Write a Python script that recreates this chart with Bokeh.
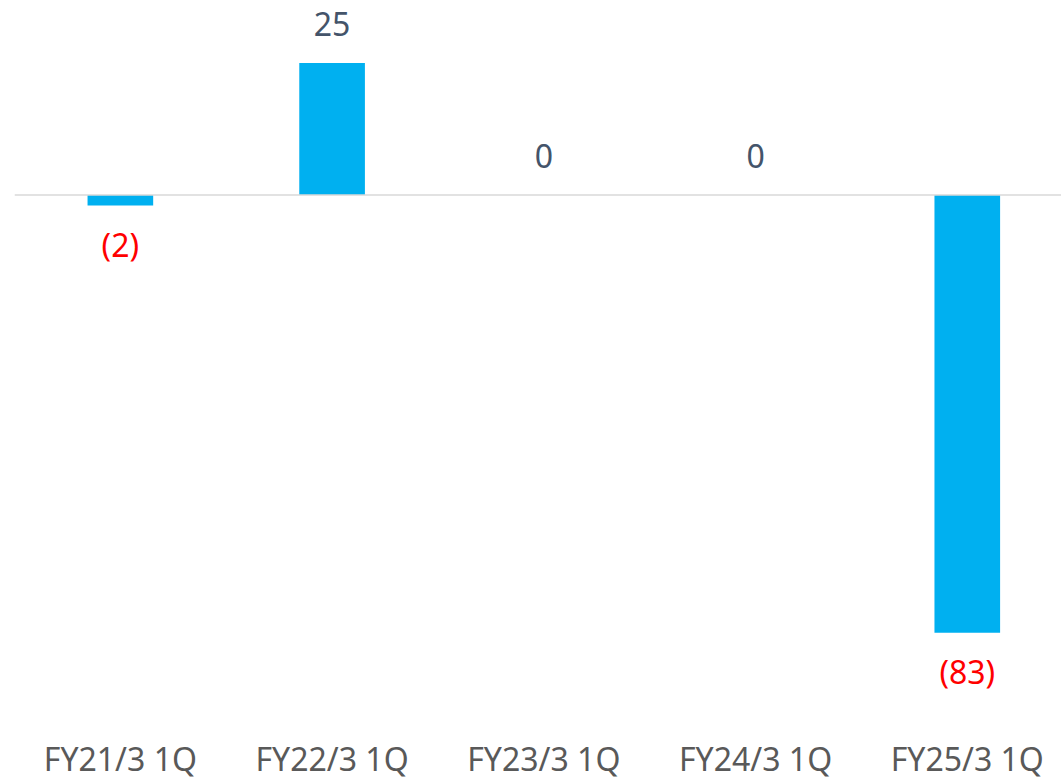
from bokeh.plotting import figure
from bokeh.models import ColumnDataSource, Range1d, FixedTicker, Span
from bokeh.core.properties import value
from bokeh.embed import file_html
from bokeh.resources import INLINE

categories = ["FY21/3 1Q", "FY22/3 1Q", "FY23/3 1Q", "FY24/3 1Q", "FY25/3 1Q"]
values = [-2, 25, 0, 0, -83]

FONT = "Noto Sans"
xs = list(range(len(categories)))
labels = [f"({abs(v)})" if v < 0 else f"{v}" for v in values]
colors = ["#FF0000" if v < 0 else "#44546A" for v in values]
offsets = [39 if v < 0 else -39 for v in values]

src = ColumnDataSource(dict(x=xs, top=values, label=labels, color=colors, off=offsets))

p = figure(width=1061, height=782, output_backend="svg", toolbar_location=None,
           x_range=Range1d(-0.5, 4.445), y_range=Range1d(-100.57, 36.86),
           min_border_left=14, min_border_right=0, min_border_top=0, min_border_bottom=55)
p.outline_line_color = None
p.xgrid.visible = False
p.ygrid.visible = False
p.yaxis.visible = False

p.vbar(x="x", top="top", bottom=0, width=0.31, source=src, color="#00B0F0", line_color=None)
p.text(x="x", y="top", text="label", source=src, y_offset="off", text_color="color",
       text_align="center", text_baseline="middle", text_font=value(FONT), text_font_size="32px")

p.add_layout(Span(location=0, dimension="width", line_color="#D9D9D9", line_width=1.5))

ax = p.xaxis[0]
ax.ticker = FixedTicker(ticks=xs)
ax.major_label_overrides = {i: c for i, c in zip(xs, categories)}
ax.axis_line_color = None
ax.major_tick_line_color = None
ax.minor_tick_line_color = None
ax.major_tick_out = 0
ax.major_tick_in = 0
ax.major_label_standoff = 11
ax.major_label_text_font = FONT
ax.major_label_text_font_size = "32px"
ax.major_label_text_color = "#595959"

open("out.html", "w").write(file_html(p, INLINE))
